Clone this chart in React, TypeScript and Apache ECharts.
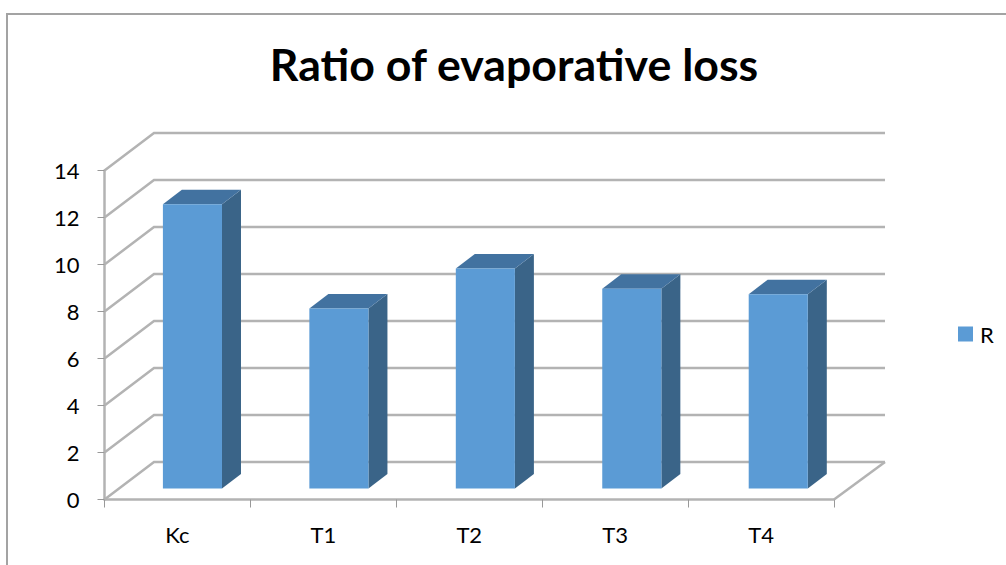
import React, { useEffect, useRef } from "react";
import * as echarts from "echarts";

const categories = ["Kc", "T1", "T2", "T3", "T4"];
const ratioValues = [12.1, 7.66, 9.36, 8.5, 8.27];
const gridTicks = [0, 2, 4, 6, 8, 10, 12, 14];

const FONT = "Lato, 'Open Sans', sans-serif";
const WALL_DX = 49.5;
const WALL_DY = -37.5;
const BAR_DX = 19;
const BAR_DY = -14.5;
const BAR_LIFT = 11;
const BAR_SHIFT = 15;
const BAR_SPREAD = 0.55;
const GRID_COLOR = "#b3b3b3";

export default function App() {
  const ref = useRef<HTMLDivElement | null>(null);

  useEffect(() => {
    const chart = echarts.init(ref.current!, undefined, { renderer: "svg" });
    chart.setOption({
      animation: false,
      backgroundColor: "#ffffff",
      title: {
        text: "Ratio of evaporative loss",
        left: 509,
        top: 36,
        textAlign: "center",
        textStyle: { fontFamily: FONT, fontSize: 44.7, fontWeight: "bold", color: "#000000" },
      },
      legend: {
        left: 953,
        top: 318,
        itemWidth: 15,
        itemHeight: 15,
        itemGap: 0,
        data: [{ name: "R", icon: "rect" }],
        textStyle: { fontFamily: FONT, fontSize: 22, color: "#000000", padding: [0, 0, 0, 2] },
      },
      grid: { left: 104.5, top: 170.5, width: 729.5, height: 329 },
      xAxis: {
        type: "category",
        data: categories,
        axisLine: { lineStyle: { color: GRID_COLOR, width: 2.5 } },
        axisTick: { show: true, length: 8, alignWithLabel: false, lineStyle: { color: "#999999", width: 1 } },
        axisLabel: { fontFamily: FONT, fontSize: 22, color: "#000000", margin: 24 },
        splitLine: { show: false },
      },
      yAxis: {
        type: "value",
        min: 0,
        max: 14,
        interval: 2,
        axisLine: { show: true, lineStyle: { color: GRID_COLOR, width: 2.5 } },
        axisTick: { show: true, length: 7, lineStyle: { color: "#999999", width: 1 } },
        axisLabel: { fontFamily: FONT, fontSize: 22, color: "#000000", margin: 25 },
        splitLine: { show: false },
      },
      graphic: [
        {
          type: "polyline",
          silent: true,
          shape: { points: [[7, 565], [7, 14], [1006, 14]] },
          style: { stroke: "#a3a3a3", lineWidth: 2, fill: "none" },
        },
      ],
      series: [
        {
          name: "walls",
          type: "custom",
          silent: true,
          z: 1,
          data: gridTicks.map((t) => [categories[0], t]),
          encode: { x: 0, y: 1 },
          renderItem: (params: any, api: any) => {
            const y = api.coord([0, api.value(1)])[1];
            const cs = params.coordSys;
            const x0 = cs.x;
            const x1 = cs.x + cs.width;
            const lineStyle = { stroke: GRID_COLOR, lineWidth: 2.5, fill: "none" };
            const children: any[] = [
              {
                type: "polyline",
                shape: { points: [[x0, y], [x0 + WALL_DX, y + WALL_DY], [x1 + WALL_DX + 1.5, y + WALL_DY]] },
                style: lineStyle,
              },
            ];
            if (params.dataIndex === 0) {
              children.push({
                type: "line",
                shape: { x1, y1: y, x2: x1 + WALL_DX + 1.5, y2: y + WALL_DY },
                style: lineStyle,
              });
            }
            return { type: "group", children };
          },
        },
        {
          name: "R",
          type: "custom",
          z: 2,
          itemStyle: { color: "#5b9bd5" },
          data: categories.map((c, i) => [c, ratioValues[i]]),
          encode: { x: 0, y: 1 },
          renderItem: (params: any, api: any) => {
            const center = api.coord([api.value(0), 0])[0] + BAR_SHIFT + BAR_SPREAD * params.dataIndex;
            const width = api.size([1, 0])[0] * 0.405;
            const l = center - width / 2;
            const r = center + width / 2;
            const bottom = api.coord([api.value(0), 0])[1] - BAR_LIFT;
            const top = api.coord([api.value(0), api.value(1)])[1] - BAR_LIFT;
            return {
              type: "group",
              children: [
                {
                  type: "polygon",
                  shape: { points: [[r, bottom], [r + BAR_DX, bottom + BAR_DY], [r + BAR_DX, top + BAR_DY], [r, top]] },
                  style: { fill: "#3a6488" },
                },
                {
                  type: "polygon",
                  shape: { points: [[l, top], [r, top], [r + BAR_DX, top + BAR_DY], [l + BAR_DX, top + BAR_DY]] },
                  style: { fill: "#4272a0" },
                },
                {
                  type: "rect",
                  shape: { x: l, y: top, width: r - l, height: bottom - top },
                  style: { fill: "#5b9bd5" },
                },
              ],
            };
          },
        },
      ],
    });
    return () => chart.dispose();
  }, []);

  return (
    <div
      ref={ref}
      style={{ position: "fixed", left: 0, top: 0, width: 1006, height: 565 }}
    />
  );
}
